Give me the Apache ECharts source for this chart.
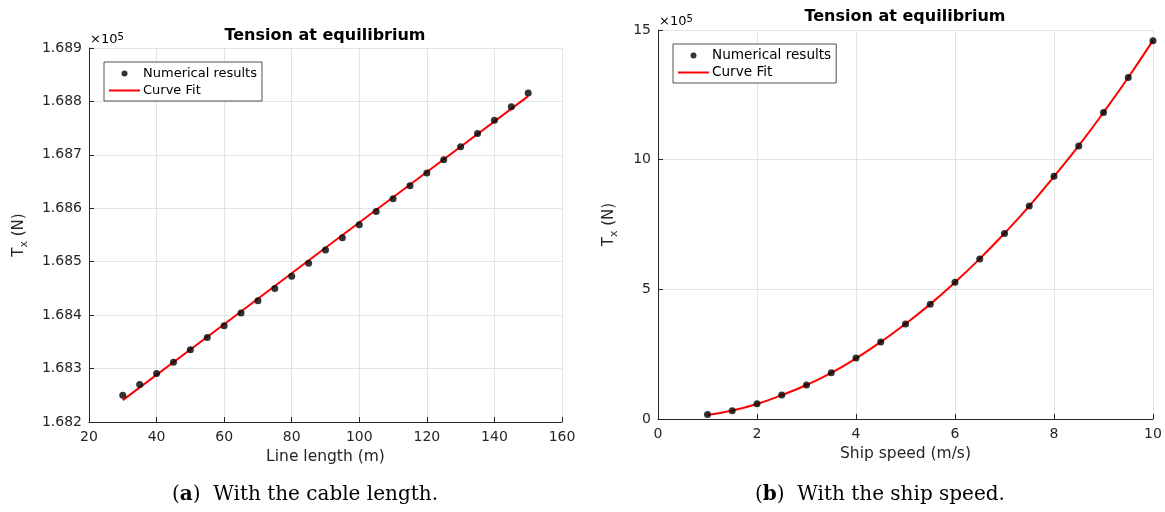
<!DOCTYPE html>
<html>
<head>
<meta charset="utf-8">
<script src="https://cdn.jsdelivr.net/npm/echarts@6/dist/echarts.min.js"></script>
<style>
html,body{margin:0;padding:0;background:#fff;}
#c{width:1165px;height:512px;}
</style>
</head>
<body>
<div id="c"></div>
<script>
// ---- Data (a): tension vs line length (values in x10^5 N) ----
const lengthX = [30,35,40,45,50,55,60,65,70,75,80,85,90,95,100,105,110,115,120,125,130,135,140,145,150];
const lengthY = [1.68250,1.68270,1.68291,1.68312,1.68335,1.68358,1.68380,1.68404,1.68427,1.68450,1.68473,1.68497,1.68522,1.68545,1.68569,1.68594,1.68618,1.68642,1.68666,1.68691,1.68715,1.68740,1.68765,1.68790,1.68816];
const lengthFitX = [30,60,90,120,150];
const lengthFitY = [1.68241,1.68383,1.68526,1.68668,1.68810];
const lengthTicks = [1.682,1.683,1.684,1.685,1.686,1.687,1.688,1.689];

// ---- Data (b): tension vs ship speed (values in x10^5 N) ----
const speedX = [1,1.5,2,2.5,3,3.5,4,4.5,5,5.5,6,6.5,7,7.5,8,8.5,9,9.5,10];
const speedY = [0.17,0.32,0.59,0.93,1.31,1.78,2.35,2.97,3.66,4.42,5.27,6.17,7.15,8.21,9.36,10.53,11.82,13.17,14.59];
const speedFitY = [0.15,0.33,0.58,0.92,1.31,1.78,2.34,2.97,3.67,4.43,5.27,6.18,7.16,8.21,9.35,10.54,11.82,13.17,14.60];

const titleText = 'Tension at equilibrium';
const seriesNames = ['Numerical results','Curve Fit'];
const xNames = ['Line length (m)','Ship speed (m/s)'];
const captions = [['a','With the cable length.'],['b','With the ship speed.']];

const pair = (xs, ys) => xs.map((x,i)=>[x, ys[i]]);
const FONT = 'DejaVu Sans';
const AX = '#262626';
const GRIDC = '#e4e4e4';

function xAxis(idx, min, max, interval, name){
  return {
    type:'value', gridIndex:idx, min, max, interval, name,
    nameLocation:'middle', nameGap:24,
    nameTextStyle:{fontFamily:FONT,fontSize:15.5,color:AX},
    axisLine:{show:true,onZero:false,lineStyle:{color:AX,width:1}},
    axisTick:{show:true,inside:true,length:5,lineStyle:{color:AX}},
    axisLabel:{fontFamily:FONT,fontSize:14,color:AX,margin:8},
    splitLine:{show:true,lineStyle:{color:GRIDC,width:1}}
  };
}
function yAxis(idx, min, max, interval, gap, fmt){
  return {
    type:'value', gridIndex:idx, min, max, interval,
    name:'{t|T}{s|x}{t| (N)}',
    nameLocation:'middle', nameGap:gap, nameRotate:90,
    nameTextStyle:{
      rich:{
        t:{fontFamily:FONT,fontSize:15,color:AX,lineHeight:22,verticalAlign:'middle'},
        s:{fontFamily:FONT,fontSize:11,color:AX,lineHeight:10,verticalAlign:'bottom'}
      }
    },
    axisLine:{show:true,lineStyle:{color:AX,width:1}},
    axisTick:{show:true,inside:true,length:5,lineStyle:{color:AX}},
    axisLabel:{fontFamily:FONT,fontSize:14,color:AX,margin:7,formatter:fmt},
    splitLine:{show:true,lineStyle:{color:GRIDC,width:1}}
  };
}
function legend(left, top, fs){
  return {
    left, top, orient:'vertical',
    data:[{name:seriesNames[0],icon:'circle'},{name:seriesNames[1],itemStyle:{opacity:0}}],
    backgroundColor:'#fff', borderColor:AX, borderWidth:0.8,
    padding:[4,5,3,4], itemGap:2, itemWidth:31, itemHeight:6,
    textStyle:{fontFamily:FONT,fontSize:fs,color:'#000',lineHeight:15,padding:[0,0,0,-2]},
    selectedMode:false
  };
}

const chart = echarts.init(document.getElementById('c'), null, {renderer:'canvas'});
chart.setOption({
  animation:false,
  backgroundColor:'#fff',
  grid:[
    {left:89, right:1165-562, top:48, bottom:512-422},
    {left:658, right:1165-1153, top:30, bottom:512-419}
  ],
  xAxis:[ xAxis(0,20,160,20,xNames[0]), xAxis(1,0,10,2,xNames[1]) ],
  yAxis:[
    yAxis(0, lengthTicks[0], lengthTicks[lengthTicks.length-1], 0.001, 59, v=>v.toFixed(3)),
    yAxis(1, 0, 15, 5, 38, v=>String(Math.round(v)))
  ],
  legend:[ legend(104,62,13), legend(673,44,13.6) ],
  series:[
    {name:seriesNames[1],type:'line',xAxisIndex:0,yAxisIndex:0,data:pair(lengthFitX,lengthFitY),
     symbol:'none',lineStyle:{color:'#ff0000',width:2},itemStyle:{color:'#ff0000'},z:3},
    {name:seriesNames[0],type:'scatter',xAxisIndex:0,yAxisIndex:0,data:pair(lengthX,lengthY),
     symbol:'circle',symbolSize:7,itemStyle:{color:'#000'},z:4},
    {name:seriesNames[1],type:'line',xAxisIndex:1,yAxisIndex:1,data:pair(speedX,speedFitY),
     symbol:'none',smooth:true,lineStyle:{color:'#ff0000',width:2},itemStyle:{color:'#ff0000'},z:3},
    {name:seriesNames[0],type:'scatter',xAxisIndex:1,yAxisIndex:1,data:pair(speedX,speedY),
     symbol:'circle',symbolSize:7,itemStyle:{color:'#000'},z:4}
  ],
  graphic:[
    {type:'text',x:325,y:36,style:{text:titleText,font:'bold 16px "DejaVu Sans"',fill:'#000',align:'center',verticalAlign:'middle'}},
    {type:'text',x:905,y:17,style:{text:titleText,font:'bold 16px "DejaVu Sans"',fill:'#000',align:'center',verticalAlign:'middle'}},
    {type:'text',x:90,y:40,style:{text:'{a|×10}{b|5}',align:'left',verticalAlign:'middle',
      rich:{a:{fontFamily:FONT,fontSize:13,color:AX,lineHeight:16},b:{fontFamily:FONT,fontSize:10,color:AX,verticalAlign:'top',lineHeight:10}}}},
    {type:'text',x:659,y:22,style:{text:'{a|×10}{b|5}',align:'left',verticalAlign:'middle',
      rich:{a:{fontFamily:FONT,fontSize:13,color:AX,lineHeight:16},b:{fontFamily:FONT,fontSize:10,color:AX,verticalAlign:'top',lineHeight:10}}}},
    {type:'text',x:305,y:495,style:{text:'{p|(}{b|'+captions[0][0]+'}{p|)}{n|  '+captions[0][1]+'}',align:'center',verticalAlign:'middle',
      rich:{b:{fontFamily:'DejaVu Serif',fontSize:20,fontWeight:'bold',color:'#000'},p:{fontFamily:'DejaVu Serif',fontSize:20,color:'#000'},n:{fontFamily:'DejaVu Serif',fontSize:20,color:'#000'}}}},
    {type:'text',x:880,y:495,style:{text:'{p|(}{b|'+captions[1][0]+'}{p|)}{n|  '+captions[1][1]+'}',align:'center',verticalAlign:'middle',
      rich:{b:{fontFamily:'DejaVu Serif',fontSize:20,fontWeight:'bold',color:'#000'},p:{fontFamily:'DejaVu Serif',fontSize:20,color:'#000'},n:{fontFamily:'DejaVu Serif',fontSize:20,color:'#000'}}}}
  ]
});
</script>
</body>
</html>
